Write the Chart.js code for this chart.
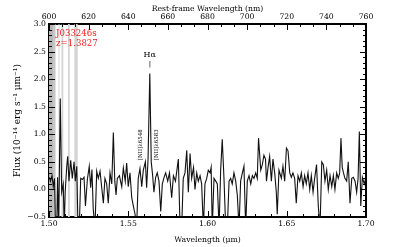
<!DOCTYPE html>
<html lang="en">
<head>
<meta charset="UTF-8">
<title>J033246s spectrum</title>
<script src="https://cdn.jsdelivr.net/npm/chart.js"></script>
<style>
  html, body { margin: 0; padding: 0; background: #fff; }
  #wrap { width: 407px; height: 247px; }
</style>
</head>
<body>
<div id="wrap"><canvas id="spec"></canvas></div>
<script>
// observed wavelength (micron)
const wave = [
  1.5002, 1.5009, 1.5019, 1.5027, 1.5035, 1.5041, 1.5049, 1.5054, 1.5061, 1.5071,
  1.5080, 1.5090, 1.5096, 1.5102, 1.5112, 1.5118, 1.5126, 1.5137, 1.5147, 1.5158,
  1.5166, 1.5175, 1.5183, 1.5191, 1.5200, 1.5210, 1.5221, 1.5230, 1.5242, 1.5254,
  1.5263, 1.5271, 1.5279, 1.5290, 1.5301, 1.5311, 1.5322, 1.5332, 1.5343, 1.5353,
  1.5364, 1.5374, 1.5385, 1.5396, 1.5406, 1.5415, 1.5423, 1.5431, 1.5444, 1.5459,
  1.5469, 1.5481, 1.5490, 1.5500, 1.5511, 1.5522, 1.5532, 1.5543, 1.5553, 1.5563,
  1.5574, 1.5585, 1.5595, 1.5608, 1.5616, 1.5625, 1.5636, 1.5645, 1.5654, 1.5662,
  1.5673, 1.5683, 1.5694, 1.5705, 1.5715, 1.5726, 1.5736, 1.5749, 1.5760, 1.5774,
  1.5785, 1.5798, 1.5816, 1.5827, 1.5837, 1.5847, 1.5858, 1.5869, 1.5879, 1.5890,
  1.5900, 1.5912, 1.5921, 1.5932, 1.5942, 1.5953, 1.5963, 1.5974, 1.5984, 1.5995,
  1.6005, 1.6016, 1.6023, 1.6030, 1.6041, 1.6052, 1.6062, 1.6073, 1.6083, 1.6093,
  1.6104, 1.6115, 1.6125, 1.6136, 1.6146, 1.6156, 1.6167, 1.6178, 1.6188, 1.6199,
  1.6209, 1.6220, 1.6230, 1.6241, 1.6251, 1.6262, 1.6273, 1.6283, 1.6293, 1.6304,
  1.6314, 1.6322, 1.6336, 1.6346, 1.6356, 1.6366, 1.6372, 1.6382, 1.6392, 1.6403,
  1.6413, 1.6424, 1.6434, 1.6440, 1.6451, 1.6466, 1.6476, 1.6487, 1.6498, 1.6508,
  1.6519, 1.6529, 1.6539, 1.6550, 1.6560, 1.6571, 1.6582, 1.6592, 1.6603, 1.6613,
  1.6623, 1.6634, 1.6645, 1.6655, 1.6666, 1.6676, 1.6688, 1.6699, 1.6710, 1.6721,
  1.6731, 1.6741, 1.6752, 1.6762, 1.6773, 1.6784, 1.6794, 1.6804, 1.6815, 1.6825,
  1.6834, 1.6842, 1.6850, 1.6858, 1.6867, 1.6878, 1.6888, 1.6899, 1.6910, 1.6920,
  1.6931, 1.6941, 1.6950, 1.6958, 1.6967, 1.6977, 1.6989, 1.6998
];
// flux in 1e-14 erg/s/um
const flux = [
  0.22, 0.15, 0.25, 0.05, 0.20, -0.7, -0.7, 0.22, -0.7, 1.65,
  -0.05, 0.10, -0.7, -0.05, 0.42, 0.60, 0.15, 0.53, 0.20, 0.50,
  0.15, 0.42, -0.7, -0.7, 0.20, 0.18, 0.22, -0.30, 0.18, 0.42,
  0.03, 0.36, -0.35, -0.7, 0.33, 0.20, 0.33, 0.05, -0.25, 0.20,
  0.10, -0.25, 0.30, 0.10, 1.03, 0.15, -0.10, 0.20, 0.25, 0.05,
  0.39, 0.15, 0.48, 0.05, 0.30, -0.15, -0.30, -0.45, -0.7, 0.20,
  0.38, 0.05, 0.35, 0.50, 0.03, 0.55, 2.10, 0.50, 0.25, -0.05,
  0.22, 0.30, 0.15, -0.40, 0.10, 0.22, 0.30, 0.15, 0.30, -0.15,
  0.25, 0.15, 0.55, -0.7, -0.7, 0.20, 0.30, 0.71, -0.05, 0.65,
  0.20, 0.40, 0.00, 0.30, 0.15, 0.25, 0.10, -0.7, 0.10, 0.20,
  0.35, 0.30, 0.40, -0.7, 0.20, 0.15, 0.10, -0.7, 0.35, 0.91,
  0.20, -0.7, -0.7, 0.15, 0.20, 0.10, 0.30, 0.15, -0.10, -0.7,
  0.15, 0.30, 0.42, -0.7, 0.15, 0.25, 0.10, 0.25, 0.20, 0.30,
  0.20, 0.93, 0.35, 0.45, 0.62, 0.55, 0.15, 0.40, 0.60, 0.15,
  0.55, 0.30, -0.05, -0.45, 0.35, 0.20, 0.42, 0.15, 0.75, 0.70,
  0.30, 0.22, 0.30, 0.20, -0.25, 0.25, 0.15, 0.30, 0.05, 0.25,
  0.10, 0.30, 0.00, 0.25, -0.05, 0.20, 0.45, -0.30, -0.7, 0.50,
  0.45, 0.15, 0.35, 0.00, 0.25, 0.05, 0.25, 0.00, 0.30, 0.20,
  0.30, 0.93, 0.40, 0.30, 0.20, 0.15, 0.50, -0.25, 0.20, 0.22,
  0.15, -0.05, 0.20, 1.05, -0.30, 0.22, 0.10, 0.20
];
// masked regions (micron)
const maskStart = [1.5000, 1.5025, 1.5060, 1.5079, 1.5120, 1.5160];
const maskEnd   = [1.5025, 1.5041, 1.5066, 1.5090, 1.5131, 1.5181];
// line labels: name, wavelength, flux where the label sits
const lineNames = ['Hα', '[NII]λ6548', '[NII]λ6583'];
const lineWave  = [1.5636, 1.5580, 1.5680];
const lineFlux  = [2.44, 0.81, 0.81];
const objName = 'J033246s';
const objZ = 'z=1.3827';

const FONT = 'DejaVu Serif';
const tickFont = { family: FONT, size: 7.7 };
const titleFont = { family: FONT, size: 7.7 };

// gray mask bands behind the spectrum
const maskBands = {
  id: 'maskBands',
  beforeDatasetsDraw(chart) {
    const { ctx, chartArea: a, scales: { x } } = chart;
    ctx.save();
    maskStart.forEach((s, i) => {
      const x0 = x.getPixelForValue(s), x1 = x.getPixelForValue(maskEnd[i]);
      ctx.fillStyle = i === 0 ? '#b6b6b6' : (i === 1 ? '#c6c6c6' : '#d3d3d3');
      ctx.fillRect(x0, a.top, x1 - x0, a.bottom - a.top);
    });
    ctx.restore();
  }
};

// IDL style ticks pointing into the plot
const inwardTicks = {
  id: 'inwardTicks',
  afterDraw(chart) {
    const { ctx, chartArea: a, scales } = chart;
    ctx.save();
    ctx.strokeStyle = '#000';
    ctx.lineWidth = 1;
    const run = (scale, step, len, side) => {
      const n = Math.round((scale.max - scale.min) / step);
      for (let k = 0; k <= n; k++) {
        const p = Math.round(scale.getPixelForValue(scale.min + k * step)) + 0.5;
        ctx.beginPath();
        if (side === 'bottom') { ctx.moveTo(p, a.bottom); ctx.lineTo(p, a.bottom - len); }
        if (side === 'top') { ctx.moveTo(p, a.top); ctx.lineTo(p, a.top + len); }
        if (side === 'left') { ctx.moveTo(a.left, p); ctx.lineTo(a.left + len, p); }
        if (side === 'right') { ctx.moveTo(a.right, p); ctx.lineTo(a.right - len, p); }
        ctx.stroke();
      }
    };
    run(scales.x, 0.05, 6, 'bottom');
    run(scales.x, 0.01, 3, 'bottom');
    run(scales.x2, 20, 6, 'top');
    run(scales.x2, 20 / 3, 3, 'top');
    run(scales.y, 0.5, 6, 'left');
    run(scales.y, 0.1, 3, 'left');
    run(scales.y2, 0.5, 6, 'right');
    run(scales.y2, 0.1, 3, 'right');
    ctx.restore();
  }
};

// line ids and object name
const labels = {
  id: 'labels',
  afterDatasetsDraw(chart) {
    const { ctx, chartArea: a, scales: { x, y } } = chart;
    ctx.save();
    ctx.fillStyle = '#000';
    // H alpha with marker
    const hx = x.getPixelForValue(lineWave[0]);
    ctx.font = '8px "' + FONT + '"';
    ctx.textAlign = 'center';
    ctx.textBaseline = 'middle';
    ctx.fillText(lineNames[0], hx, y.getPixelForValue(lineFlux[0]));
    ctx.strokeStyle = '#999';
    ctx.lineWidth = 1.5;
    ctx.beginPath();
    ctx.moveTo(hx, y.getPixelForValue(2.33));
    ctx.lineTo(hx, y.getPixelForValue(2.21));
    ctx.stroke();
    // [NII] labels, vertical
    ctx.font = '5.5px "' + FONT + '"';
    for (let i = 1; i < lineNames.length; i++) {
      ctx.save();
      ctx.translate(x.getPixelForValue(lineWave[i]), y.getPixelForValue(lineFlux[i]));
      ctx.rotate(-Math.PI / 2);
      ctx.fillText(lineNames[i], 0, 0);
      ctx.restore();
    }
    // object name and redshift
    ctx.fillStyle = '#f02020';
    ctx.font = '8.6px "' + FONT + '"';
    ctx.textAlign = 'left';
    ctx.fillText(objName, a.left + 7, a.top + 10);
    ctx.fillText(objZ, a.left + 7, a.top + 20);
    ctx.restore();
  }
};

const frame = { display: true, color: '#000', width: 2 };
const noGrid = { display: false, drawTicks: false };

new Chart(document.getElementById('spec'), {
  type: 'line',
  data: {
    datasets: [{
      data: wave.map((w, i) => ({ x: w, y: flux[i] })),
      borderColor: '#111',
      borderWidth: 1.1,
      pointRadius: 0,
      tension: 0,
      clip: 0
    }]
  },
  options: {
    responsive: true,
    maintainAspectRatio: false,
    animation: false,
    layout: { padding: 0 },
    plugins: { legend: { display: false }, tooltip: { enabled: false } },
    scales: {
      x: {
        type: 'linear', position: 'bottom', min: 1.5, max: 1.7,
        afterFit: s => { s.height = 30; },
        grid: noGrid, border: frame,
        ticks: { stepSize: 0.05, autoSkip: false, maxRotation: 0, padding: 2, color: '#000', font: tickFont,
                 callback: v => v.toFixed(2) },
        title: { display: true, text: 'Wavelength (μm)', color: '#000', font: titleFont, padding: { top: 0, bottom: 2 } }
      },
      x2: {
        type: 'linear', position: 'top', min: 600, max: 760,
        afterFit: s => { s.height = 24; },
        grid: noGrid, border: frame,
        ticks: { stepSize: 20, autoSkip: false, maxRotation: 0, padding: 2, color: '#000', font: tickFont },
        title: { display: true, text: 'Rest-frame Wavelength (nm)', color: '#000', font: titleFont, padding: { top: 4, bottom: 0 } }
      },
      y: {
        type: 'linear', position: 'left', min: -0.5, max: 3.0,
        afterFit: s => { s.width = 49; },
        grid: noGrid, border: frame,
        ticks: { stepSize: 0.5, padding: 3, color: '#000', font: tickFont,
                 callback: v => (v < 0 ? '\u2212' : '') + Math.abs(v).toFixed(1) },
        title: { display: true, text: 'Flux (10⁻¹⁴ erg s⁻¹ μm⁻¹)', color: '#000', font: { family: FONT, size: 9 }, padding: { top: 12, bottom: 0 } }
      },
      y2: {
        type: 'linear', position: 'right', min: -0.5, max: 3.0,
        afterFit: s => { s.width = 41; },
        grid: noGrid, border: frame,
        ticks: { display: false }
      }
    }
  },
  plugins: [maskBands, inwardTicks, labels]
});
</script>
</body>
</html>
